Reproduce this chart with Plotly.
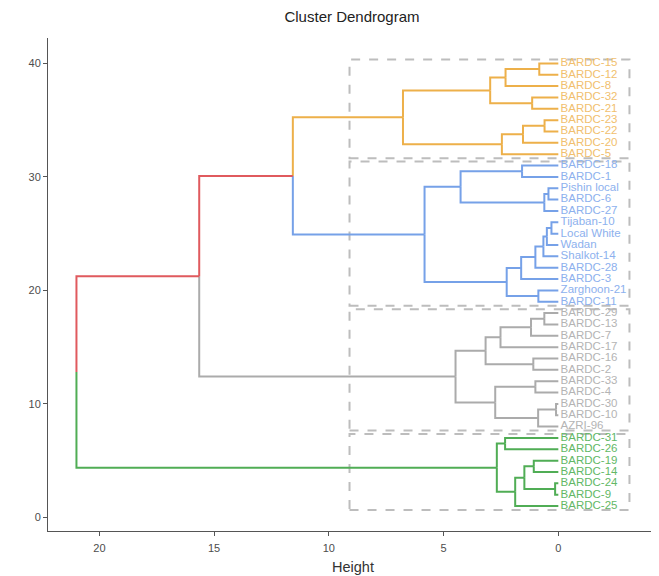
import plotly.graph_objects as go

# Leaf labels, top to bottom
leaf_labels = [
    "BARDC-15", "BARDC-12", "BARDC-8", "BARDC-32", "BARDC-21", "BARDC-23", "BARDC-22",
    "BARDC-20", "BARDC-5",
    "BARDC-18", "BARDC-1", "Pishin local", "BARDC-6", "BARDC-27", "Tijaban-10",
    "Local White", "Wadan", "Shalkot-14", "BARDC-28", "BARDC-3", "Zarghoon-21", "BARDC-11",
    "BARDC-29", "BARDC-13", "BARDC-7", "BARDC-17", "BARDC-16", "BARDC-2", "BARDC-33",
    "BARDC-4", "BARDC-30", "BARDC-10", "AZRI-96",
    "BARDC-31", "BARDC-26", "BARDC-19", "BARDC-14", "BARDC-24", "BARDC-9", "BARDC-25",
]

# Merge table (negative = leaf index 1-based, positive = earlier merge step)
merge_a = [-1, 1, -4, 2, -6, 5, 6, 4,
           -10, -12, 10, 9, -15, 13, 14, 15, 16, -21, 17, 12,
           -23, 21, 22, -27, 23, -29, -31, 27, 26, 25,
           -34, -36, -38, 32, 34, 31,
           8, 37, 38]
merge_b = [-2, -3, -5, 3, -7, -8, -9, 7,
           -11, -13, -14, 11, -16, -17, -18, -19, -20, -22, 18, 19,
           -24, -25, -26, -28, 24, -30, -32, -33, 28, 29,
           -35, -37, -39, 33, -40, 35,
           20, 30, 36]
merge_h = [0.83, 2.30, 1.14, 2.97, 0.60, 1.54, 2.46, 6.77,
           1.58, 0.43, 0.61, 4.26, 0.30, 0.50, 0.65, 1.00, 1.62, 0.87, 2.25, 5.83,
           0.61, 1.19, 2.52, 1.09, 3.17, 1.00, 0.10, 0.88, 2.75, 4.48,
           2.32, 1.07, 0.14, 1.48, 1.88, 2.68,
           11.57, 15.65, 21.00]

# Cluster root merge steps and colours
cluster_nodes = [8, 20, 30, 36]
cluster_colors = ["#EDB04A", "#76A1E8", "#ABABAB", "#50AD55"]
label_colors = ["#F1C06E", "#8DB1EE", "#B4B4B4", "#62B866"]
other_color = "#E05A5E"

n = len(leaf_labels)
leaf_y = {i + 1: n - i for i in range(n)}

node_y = {}
node_h = {}
def pos(ref):
    if ref < 0:
        return leaf_y[-ref], 0.0
    return node_y[ref], node_h[ref]

for k in range(len(merge_a)):
    step = k + 1
    ya, _ = pos(merge_a[k])
    yb, _ = pos(merge_b[k])
    node_y[step] = (ya + yb) / 2
    node_h[step] = merge_h[k]

node_color = {}
leaf_color = {}
def paint(ref, ci):
    if ref < 0:
        leaf_color[-ref] = ci
        return
    node_color[ref] = ci
    paint(merge_a[ref - 1], ci)
    paint(merge_b[ref - 1], ci)

for ci, nd in enumerate(cluster_nodes):
    paint(nd, ci)

segs = {}
def add_seg(color, xs, ys):
    d = segs.setdefault(color, ([], []))
    d[0].extend(xs + [None])
    d[1].extend(ys + [None])

for k in range(len(merge_a)):
    step = k + 1
    h = node_h[step]
    y0 = node_y[step]
    for child in (merge_a[k], merge_b[k]):
        cy, ch = pos(child)
        if child < 0:
            col = cluster_colors[leaf_color[-child]]
        else:
            col = cluster_colors[node_color[child]] if child in node_color else other_color
        add_seg(col, [h, h, ch], [y0, cy, cy])

fig = go.Figure()

rect_left, rect_right, pad = 9.1, -3.1, 0.35
for ci in range(len(cluster_nodes)):
    ys = [leaf_y[i] for i, c in leaf_color.items() if c == ci]
    fig.add_shape(type="rect", x0=rect_left, x1=rect_right,
                  y0=min(ys) - pad, y1=max(ys) + pad,
                  line=dict(color="#BDBDBD", width=2, dash="dash"), layer="below")

for col, (xs, ys) in segs.items():
    fig.add_trace(go.Scatter(x=xs, y=ys, mode="lines",
                             line=dict(color=col, width=2), hoverinfo="skip",
                             showlegend=False))

for ci in range(len(cluster_nodes)):
    idx = [i for i in range(1, n + 1) if leaf_color[i] == ci]
    fig.add_trace(go.Scatter(
        x=[-0.1] * len(idx), y=[leaf_y[i] for i in idx],
        text=[leaf_labels[i - 1] for i in idx], mode="text",
        textposition="middle right",
        textfont=dict(color=label_colors[ci], size=11.5,
                      family="Liberation Sans, Arial, sans-serif"),
        showlegend=False, hoverinfo="skip"))

# the page body adds an 8px offset, so margins are reduced accordingly
fig.update_layout(
    width=659, height=576,
    margin=dict(l=40, r=10, t=30, b=53),
    plot_bgcolor="white", paper_bgcolor="white",
    font=dict(family="Liberation Sans, Arial, sans-serif", color="#333333"),
    title=dict(text="Cluster Dendrogram", x=0.522, xanchor="center", y=0.984,
               yanchor="middle", font=dict(size=15, color="#222222")),
    showlegend=False,
    annotations=[dict(text="Height", xref="paper", yref="paper", x=0.5, y=-0.073,
                      xanchor="center", yanchor="middle", showarrow=False,
                      font=dict(size=14.5, color="#333333"))],
)
fig.update_xaxes(range=[22.24, -4.3], tickvals=[20, 15, 10, 5, 0],
                 automargin=False, ticklabelstandoff=3,
                 showgrid=False, zeroline=False, showline=True,
                 linecolor="#555555", linewidth=1, ticks="outside", ticklen=4,
                 tickcolor="#555555", tickfont=dict(size=11, color="#4D4D4D"))
fig.update_yaxes(range=[-1.2, 42.24], tickvals=[0, 10, 20, 30, 40],
                 automargin=False,
                 showgrid=False, zeroline=False, showline=True,
                 linecolor="#555555", linewidth=1, ticks="outside", ticklen=4,
                 tickcolor="#555555", tickfont=dict(size=11, color="#4D4D4D"))

fig.write_html("out.html")
